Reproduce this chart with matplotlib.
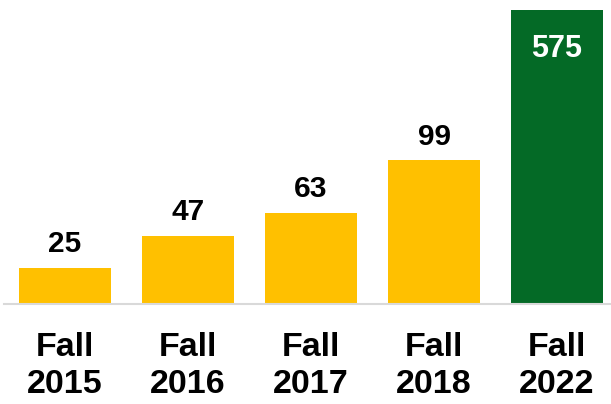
import matplotlib
matplotlib.use("Agg")
import matplotlib.pyplot as plt

categories = ["Fall\n2015", "Fall\n2016", "Fall\n2017", "Fall\n2018", "Fall\n2022"]
values = [25, 47, 63, 99, 575]
colors = ["#FFC000", "#FFC000", "#FFC000", "#FFC000", "#046A26"]

FONT = ["Liberation Sans Narrow", "Liberation Sans", "DejaVu Sans"]

fig = plt.figure(figsize=(6.11, 4.04), dpi=100)
W, H = 611, 404
ax = fig.add_axes([3.5 / W, 100 / H, 607.5 / W, 294 / H])

x = list(range(len(values)))
ax.bar(x, values, width=0.75, color=colors, zorder=2)
ax.set_xlim(-0.5, 4.439)
ax.set_ylim(0, 202.8)

for s in ["top", "right", "left"]:
    ax.spines[s].set_visible(False)
ax.spines["bottom"].set_color("#D9D9D9")
ax.spines["bottom"].set_linewidth(1.5)
ax.set_yticks([])
ax.set_xticks(x)
ax.set_xticklabels(categories, fontsize=24.5, fontweight="bold", family=FONT, linespacing=1.24)
ax.tick_params(axis="x", length=0, pad=20)

ymax = ax.get_ylim()[1]
for xi, v in zip(x, values):
    if v <= ymax:
        ax.annotate(str(v), xy=(xi, v), xytext=(0, 7), textcoords="offset points",
                    ha="center", va="bottom", fontsize=21.5, fontweight="bold",
                    family=FONT, color="black")
    else:
        ax.annotate(str(v), xy=(xi, 1), xycoords=("data", "axes fraction"),
                    xytext=(0, -17), textcoords="offset points",
                    ha="center", va="top", fontsize=22, fontweight="bold",
                    family=FONT, color="white")

fig.savefig("out.png", dpi=100)
